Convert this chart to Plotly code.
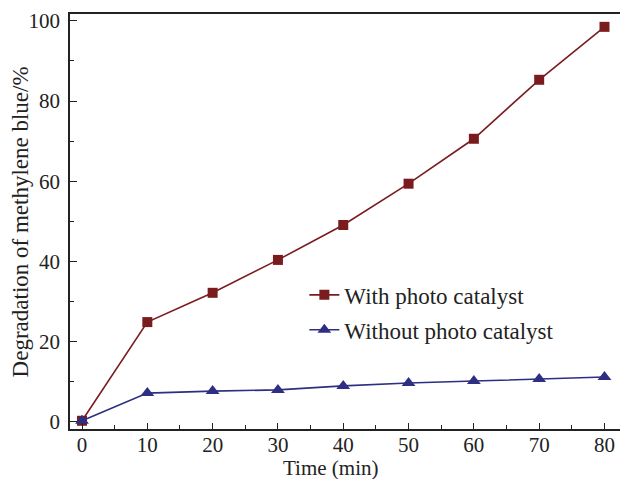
import plotly.graph_objects as go

time_min = [0, 10, 20, 30, 40, 50, 60, 70, 80]
with_catalyst = [0.3, 24.9, 32.2, 40.4, 49.1, 59.4, 70.6, 85.3, 98.5]
without_catalyst = [0.3, 7.2, 7.7, 8.0, 9.0, 9.7, 10.2, 10.7, 11.2]
series_names = ["With photo catalyst", "Without photo catalyst"]
x_title = "Time (min)"
y_title = "Degradation of methylene blue/%"

red = "#7A1C1E"
blue = "#2E2F82"
font = "Liberation Serif"

fig = go.Figure()
fig.add_trace(go.Scatter(x=time_min, y=with_catalyst, name=series_names[0],
                         mode="lines+markers", legendgroup="a",
                         line=dict(color=red, width=1.6),
                         marker=dict(symbol="square", size=10, color=red)))
fig.add_trace(go.Scatter(x=time_min, y=without_catalyst, name=series_names[1],
                         mode="lines+markers", legendgroup="b",
                         line=dict(color=blue, width=1.6),
                         marker=dict(symbol="triangle-up", size=12, color=blue)))

# page body has an 8px margin, so the figure is 620x471 and margins compensate
fig.update_layout(
    width=620, height=471,
    margin=dict(l=62, r=0, t=6, b=50),
    paper_bgcolor="white", plot_bgcolor="white",
    font=dict(family=font, size=21, color="#222"),
    showlegend=True,
    legend=dict(x=0.42, y=0.375, xanchor="left", yanchor="top",
                bgcolor="rgba(0,0,0,0)", font=dict(family=font, size=23, color="#222"),
                traceorder="grouped", tracegroupgap=2),
    xaxis=dict(range=[-1.84, 83.6], tickmode="array", tickvals=[0,10,20,30,40,50,60,70,80],
               ticks="inside", ticklen=6, tickwidth=1, tickcolor="#222",
               minor=dict(dtick=5, ticks="inside", ticklen=4, tickcolor="#222"),
               showline=True, linecolor="#222", linewidth=1.5, mirror=True,
               showgrid=False, zeroline=False, automargin=False,
               ticklabelstandoff=-4,
               tickfont=dict(size=21)),
    yaxis=dict(range=[-1.75, 101.7], tickmode="array", tickvals=[0,20,40,60,80,100],
               ticks="inside", ticklen=7, tickwidth=1, tickcolor="#222",
               minor=dict(dtick=10, ticks="inside", ticklen=4, tickcolor="#222"),
               showline=True, linecolor="#222", linewidth=1.5, mirror=False,
               showgrid=False, zeroline=False, automargin=False,
               ticklabelstandoff=4,
               tickfont=dict(size=21)),
    annotations=[
        dict(text=x_title, xref="paper", yref="paper", x=0.466, y=-0.094,
             xanchor="center", yanchor="middle", showarrow=False,
             font=dict(family=font, size=21, color="#222")),
        dict(text=y_title, xref="paper", yref="paper", x=-0.088, y=0.5,
             xanchor="center", yanchor="middle", showarrow=False, textangle=-90,
             font=dict(family=font, size=23, color="#222")),
    ],
)

fig.write_html("out.html")
